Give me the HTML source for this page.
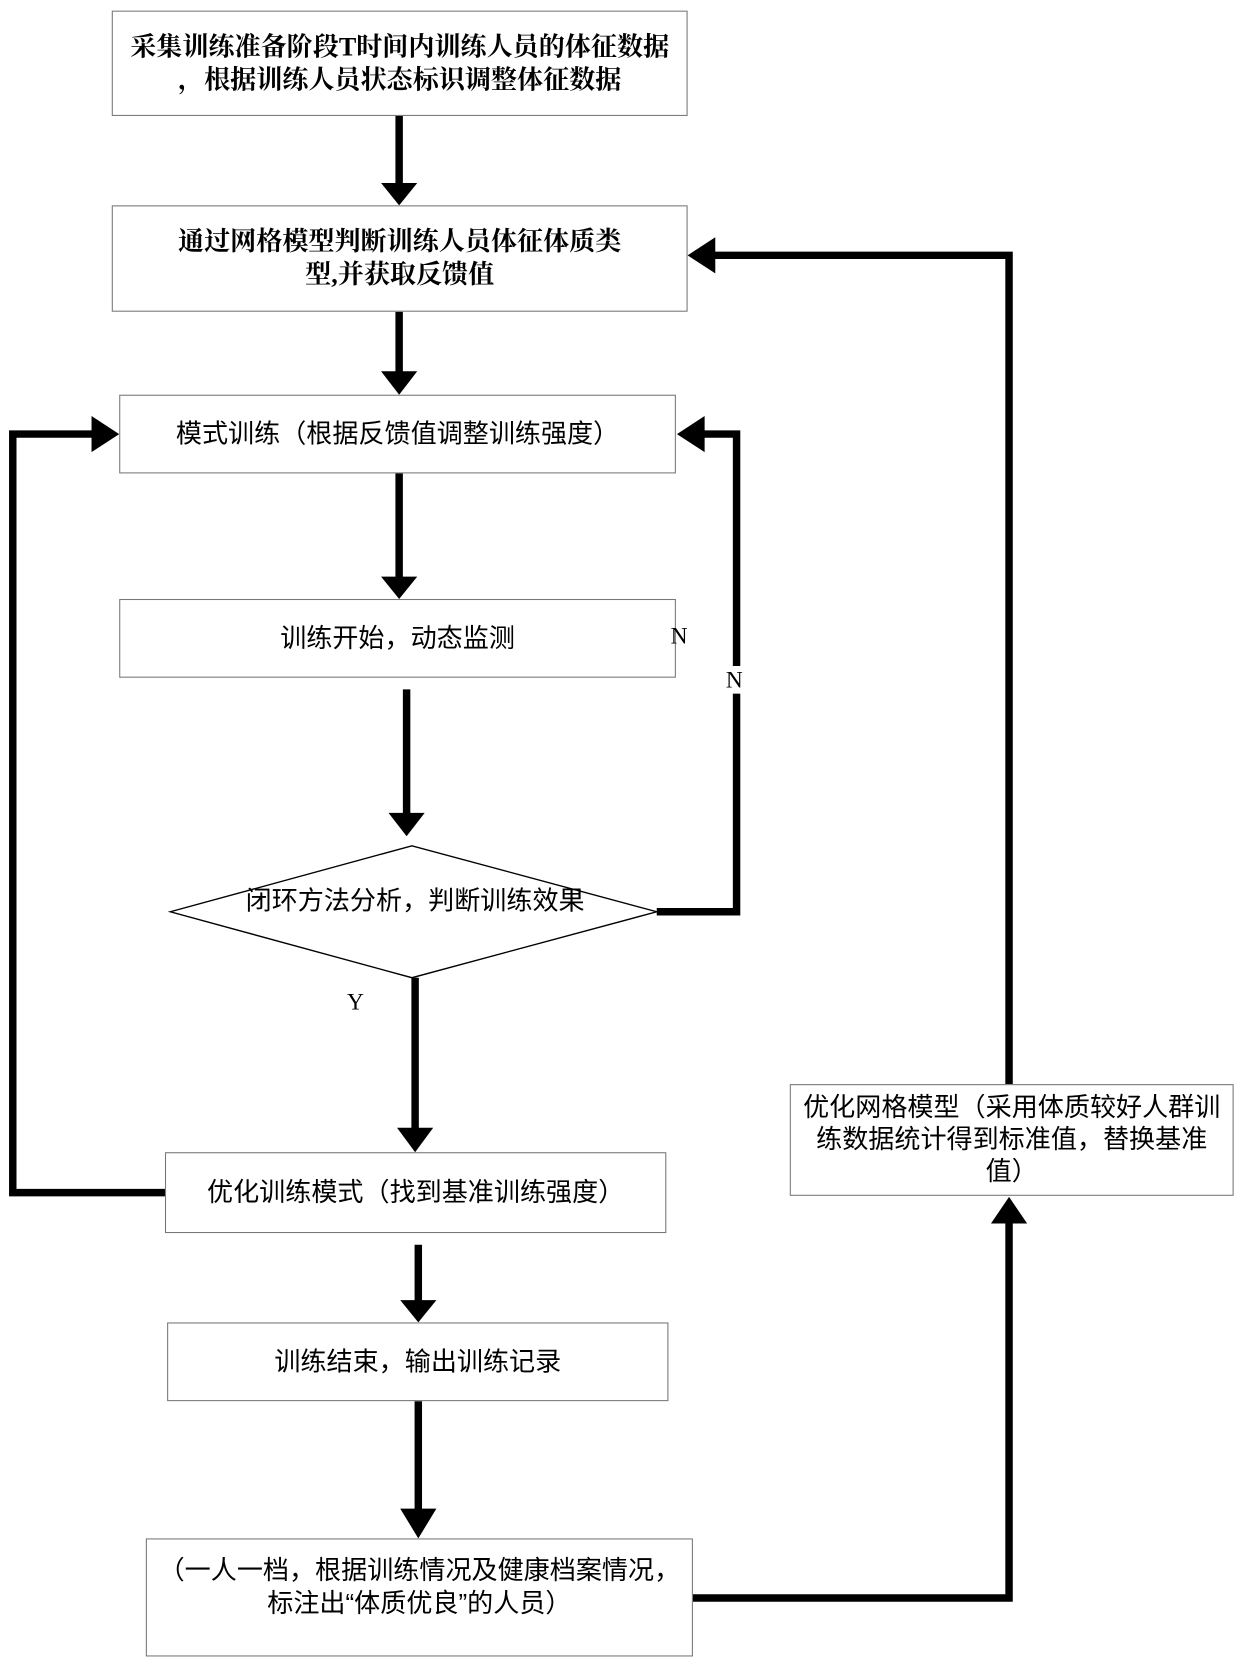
<!DOCTYPE html>
<html><head><meta charset="utf-8"><style>
html,body{margin:0;padding:0;background:#fff;width:1240px;height:1665px;overflow:hidden}
#w{position:absolute;left:0;top:0;width:1165px;height:1565px;transform:scale(1.0644,1.0639);transform-origin:0 0}
.b{position:absolute;border:1.3px solid #777;box-sizing:border-box;display:flex;align-items:center;justify-content:center;text-align:center;font-family:"Liberation Sans","Noto Sans CJK SC",sans-serif;font-size:24.5px;line-height:31px;color:#000;background:#fff;white-space:nowrap}
.s{font-family:"Liberation Serif","Noto Serif CJK SC",serif;font-weight:bold;font-size:24.5px}
.t{position:absolute;font-family:"Liberation Serif",serif;font-size:22px}
svg{position:absolute;left:0;top:0}
</style></head><body><div id="w">
<svg width="1165" height="1565" viewBox="0 0 1165 1565">
<g stroke="#000" stroke-width="7" fill="none" stroke-linejoin="miter">
<line x1="375" y1="109" x2="375" y2="178"/>
<line x1="375" y1="293" x2="375" y2="356"/>
<line x1="375" y1="445" x2="375" y2="548"/>
<line x1="382" y1="648" x2="382" y2="770"/>
<line x1="390" y1="919" x2="390" y2="1066"/>
<line x1="393" y1="1170" x2="393" y2="1226"/>
<line x1="393" y1="1317" x2="393" y2="1430"/>
<polyline points="617,857 692,857 692,408 660,408"/>
<polyline points="155,1121 12,1121 12,408 90,408"/>
<polyline points="651,1502 948,1502 948,1148"/>
<polyline points="948,1019 948,240 670,240"/>
</g>
<g fill="#000">
<polygon points="358,172 392,172 375,193"/>
<polygon points="358,349 392,349 375,371"/>
<polygon points="358,542 392,542 375,563"/>
<polygon points="365,764 399,764 382,786"/>
<polygon points="373,1060 407,1060 390,1083"/>
<polygon points="376,1222 410,1222 393,1243"/>
<polygon points="376,1418 410,1418 393,1446"/>
<polygon points="931,1150 965,1150 948,1125"/>
<polygon points="672,223 672,257 646,240"/>
<polygon points="662,391 662,425 636,408"/>
<polygon points="86,391 86,425 112,408"/>
<polygon points="160,857 387,795 617,857 387,919" fill="#fff" stroke="#000" stroke-width="1.3"/>
</g>
</svg>
<div class="b s" style="left:105px;top:10px;width:541px;height:99px">采集训练准备阶段T时间内训练人员的体征数据<br>，根据训练人员状态标识调整体征数据</div>
<div class="b s" style="left:105px;top:193px;width:541px;height:100px">通过网格模型判断训练人员体征体质类<br>型,并获取反馈值</div>
<div class="b" style="left:112px;top:371px;width:523px;height:74px">模式训练（根据反馈值调整训练强度）</div>
<div class="b" style="left:112px;top:563px;width:523px;height:74px">训练开始，动态监测</div>
<div class="t" style="left:630px;top:585px">N</div>
<div class="t" style="left:682px;top:626px;background:#fff">N</div>
<div class="b" style="left:210px;top:830px;width:360px;height:34px;border:none;background:transparent">闭环方法分析，判断训练效果</div>
<div class="t" style="left:326px;top:929px">Y</div>
<div class="b" style="left:155px;top:1083px;width:471px;height:76px">优化训练模式（找到基准训练强度）</div>
<div class="b" style="left:157px;top:1243px;width:471px;height:74px">训练结束，输出训练记录</div>
<div class="b" style="left:137px;top:1446px;width:514px;height:111px;padding-bottom:20px">（一人一档，根据训练情况及健康档案情况，<br>标注出“体质优良”的人员）</div>
<div class="b" style="left:742px;top:1019px;width:417px;height:105px;line-height:30px">优化网格模型（采用体质较好人群训<br>练数据统计得到标准值，替换基准<br>值）</div>
</div></body></html>
